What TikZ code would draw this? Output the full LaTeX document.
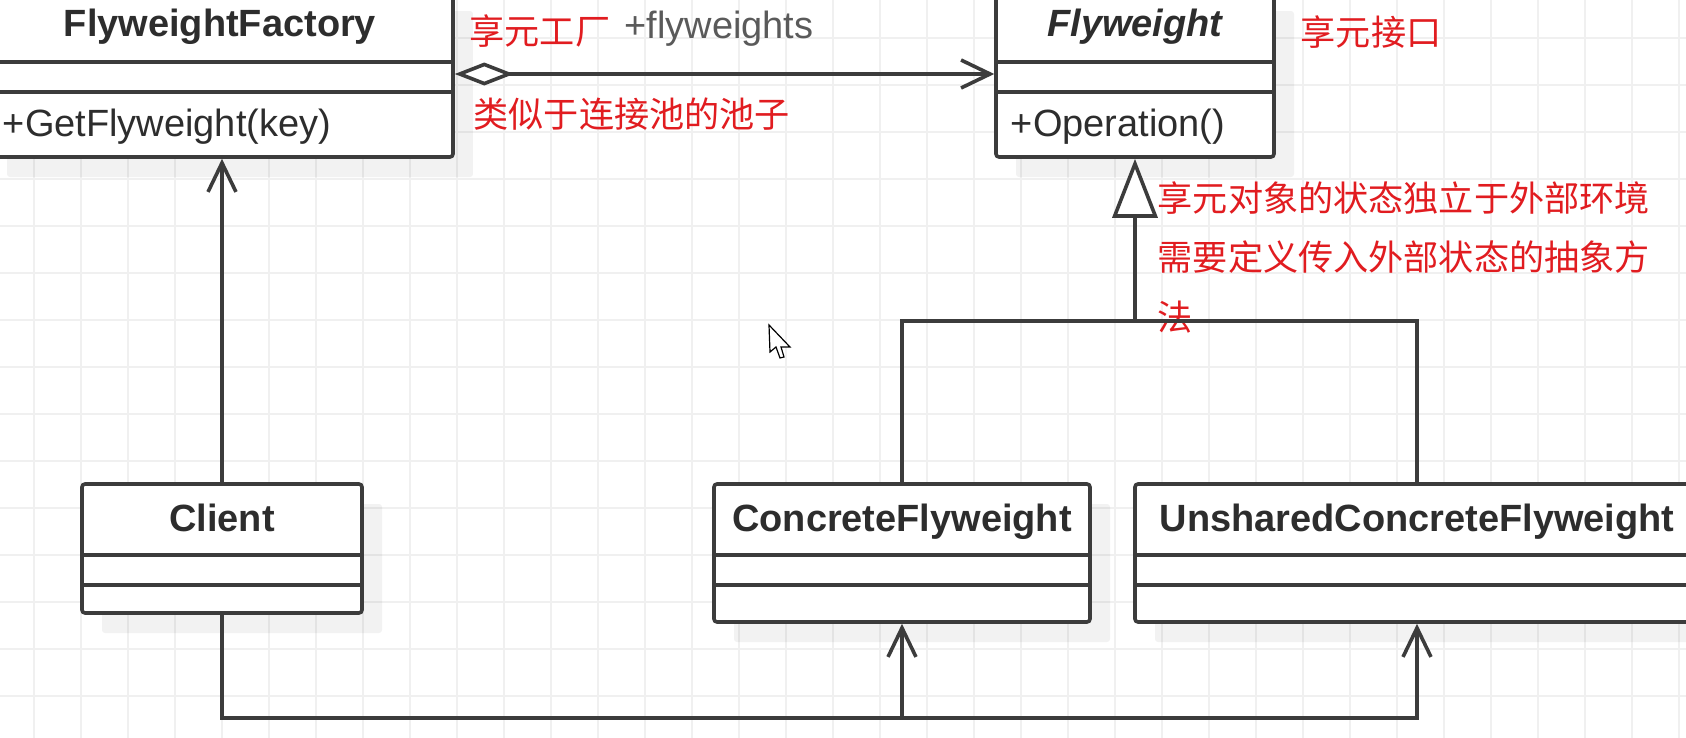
\documentclass[tikz,border=0pt]{standalone}
\usepackage{fontspec}
\setmainfont{Liberation Sans}
\newfontfamily\cjk{Noto Sans CJK SC}
\usetikzlibrary{arrows.meta,shadows}

\definecolor{notered}{RGB}{225,28,32}
\definecolor{umlline}{RGB}{60,60,60}
\definecolor{umltext}{RGB}{45,45,45}
\definecolor{rolegray}{RGB}{90,90,90}

\begin{document}
\begin{tikzpicture}[x=0.1mm, y=-0.1mm,
    gridline/.style={draw=black!6, line width=0.2mm},
    classbox/.style={draw=umlline, line width=0.36mm, fill=white, rounded corners=0.3mm, inner sep=0pt,
        drop shadow={shadow xshift=2mm, shadow yshift=-2mm, fill=black, opacity=0.05}},
    classline/.style={draw=umlline, line width=0.36mm},
    classtitle/.style={font=\fontsize{10.8}{13}\selectfont\bfseries, text=umltext, inner sep=0pt, anchor=base},
    member/.style={font=\fontsize{10.8}{13}\selectfont, text=umltext, inner sep=0pt, anchor=base west},
    note/.style={font=\cjk\fontsize{10}{16.8}\selectfont, text=notered, inner sep=0pt, anchor=base west, align=left},
    role/.style={font=\fontsize{10.8}{13}\selectfont, text=rolegray, inner sep=0pt, anchor=base west},
    uses/.style={classline, -{Straight Barb[length=2.9mm, width=2.8mm]}},
    aggregation/.style={classline, {Diamond[fill=white, length=5.9mm, width=2.3mm]}-{Straight Barb[length=2.9mm, width=2.8mm]}},
    realize/.style={classline, -{Triangle[fill=white, length=5.9mm, width=4.5mm]}}]

    \useasboundingbox (0,0) rectangle (1686,738);
    \clip (0,0) rectangle (1686,738);
    \fill[white] (0,0) rectangle (1686,738);
    \foreach \gx in {34,81,...,1686} \draw[gridline] (\gx,0) -- (\gx,738);
    \foreach \gy in {38,85,...,738} \draw[gridline] (0,\gy) -- (1686,\gy);

    \node[classbox, minimum width=46.6mm, minimum height=16.6mm] (factory) at (220,74) {};
    \node[classbox, minimum width=27.8mm, minimum height=16.6mm] (flyweight) at (1135,74) {};
    \node[classbox, minimum width=28mm, minimum height=12.9mm] (client) at (222,548.5) {};
    \node[classbox, minimum width=37.6mm, minimum height=13.8mm] (concrete) at (902,553) {};
    \node[classbox, minimum width=56.4mm, minimum height=13.8mm] (unshared) at (1417,553) {};

    \foreach \c in {factory,flyweight,client,concrete,unshared}
        \draw[classline] ([yshift=-7.3mm]\c.north west) -- ([yshift=-7.3mm]\c.north east)
                         ([yshift=-10.3mm]\c.north west) -- ([yshift=-10.3mm]\c.north east);

    \node[classtitle] (factoryname) at ([yshift=-4.75mm]factory.north) {FlyweightFactory};
    \node[classtitle] (flyweightname) at ([yshift=-4.75mm]flyweight.north) {\itshape Flyweight};
    \node[classtitle] (clientname) at ([yshift=-4.9mm]client.north) {Client};
    \node[classtitle] (concretename) at ([yshift=-4.9mm]concrete.north) {ConcreteFlyweight};
    \node[classtitle] (unsharedname) at ([yshift=-4.9mm]unshared.north) {UnsharedConcreteFlyweight};

    \node[member] (getflyweight) at ([xshift=1.7mm, yshift=-14.7mm]factory.north west) {+GetFlyweight(key)};
    \node[member] (operation) at ([xshift=1.6mm, yshift=-14.7mm]flyweight.north west) {+Operation()};

    \node[note] (factorynote) at (469,44) {享元工厂};
    \node[role] (flyweights) at (624,38) {+flyweights};
    \node[note] (poolnote) at (473,127) {类似于连接池的池子};
    \node[note] (interfacenote) at (1300,45) {享元接口};
    \node[note] (statenote) at (1157,330) {享元对象的状态独立于外部环境\\需要定义传入外部状态的抽象方\\法};

    \coordinate (fork) at (1135,321);
    \coordinate (bus) at (0,718);

    \draw[aggregation] (factory.east) -- (flyweight.west);
    \draw[realize] (fork) -- (flyweight.south);
    \draw[classline] (concrete.north) -- (concrete.north |- fork) -- (unshared.north |- fork) -- (unshared.north);
    \draw[uses] (client.north) -- (client.north |- factory.south);
    \draw[uses] (client.south) -- (client.south |- bus) -| (concrete.south);
    \draw[uses] (concrete.south |- bus) -| (unshared.south);

    % mouse pointer
    \draw[line width=0.12mm, fill=white] (769,325) -- (770,352) -- (776,347) -- (780,358) -- (784,357) -- (781,347) -- (790,347) -- cycle;

\end{tikzpicture}
\end{document}
